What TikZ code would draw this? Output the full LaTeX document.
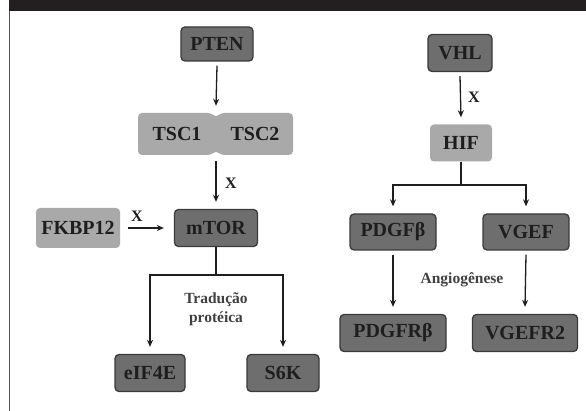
\documentclass[tikz,border=0pt]{standalone}
\usepackage{fontspec}
\setmainfont{Liberation Serif}
\usetikzlibrary{arrows.meta}
\definecolor{darkbox}{HTML}{6E6E6E}
\definecolor{darkedge}{HTML}{3A3A3A}
\definecolor{lightbox}{HTML}{A9A9A9}
\definecolor{ink}{HTML}{1E1E1E}
\definecolor{topbar}{HTML}{231F20}
\definecolor{sideline}{HTML}{555555}
\begin{document}
\begin{tikzpicture}[x=1pt,y=-1pt,
  box/.style={rounded corners=4pt, inner sep=0pt, font=\fontsize{20}{20}\selectfont\bfseries, text=ink},
  darkb/.style={box, fill=darkbox, draw=darkedge, line width=1.3pt},
  lightb/.style={box, fill=lightbox},
  plain/.style={draw=ink, line width=1.3pt},
  conn/.style={plain, -{Stealth[length=7pt,width=6pt]}},
  lab/.style={font=\fontsize{16}{16}\selectfont\bfseries, text=ink},
  toplab/.style={font=\fontsize{15.5}{19}\selectfont\bfseries, text=ink!85, align=center}]
\useasboundingbox (0,0) rectangle (586,411);
\fill[white] (0,0) rectangle (586,411);
\fill[topbar] (9,0) rectangle (586,11);
\draw[sideline, line width=1.5pt] (9.5,11) -- (9.5,411);

% left pathway
\node[darkb, minimum width=72pt, minimum height=34pt] (pten) at (217,44) {PTEN};
\fill[lightbox, rounded corners=4pt] (138,113) -- (212,113) -- (216,118) -- (220,113) -- (293,113)
  -- (293,155) -- (220,155) -- (216,150) -- (212,155) -- (138,155) -- cycle;
\node[minimum width=155pt, minimum height=42pt, inner sep=0pt] (tsc) at (216,134) {};
\node[box] (tsc1) at (177,134) {TSC1};
\node[box] (tsc2) at (255,134) {TSC2};
\node[darkb, minimum width=83pt, minimum height=37pt] (mtor) at (216,228) {mTOR};
\node[lightb, minimum width=84pt, minimum height=40pt] (fkbp) at (78,228) {FKBP12};
\node[darkb, minimum width=70pt, minimum height=37pt] (eif) at (150,373) {eIF4E};
\node[darkb, minimum width=72pt, minimum height=37pt] (s6k) at (283,373) {S6K};
\node[lab] (x1) at (231,183) {X};
\node[lab] (x2) at (137,216) {X};
\node[toplab] (trad) at (216,309) {Tradução\\protéica};
\coordinate (mb) at (216,275);

\draw[conn] ([yshift=-4pt]pten.south) -- ([yshift=7pt]tsc.north);
\draw[conn] ([yshift=-6pt]tsc.south) -- ([yshift=7pt]mtor.north);
\draw[conn] ([xshift=8pt]fkbp.east) -- ([xshift=-10pt]mtor.west);
\draw[plain] (mtor.south) -- (mb);
\draw[conn] (mb) -| ([yshift=7pt]eif.north);
\draw[conn] (mb) -| ([yshift=7pt]s6k.north);

% right pathway
\node[darkb, minimum width=64pt, minimum height=37pt] (vhl) at (460,53) {VHL};
\node[lightb, minimum width=62pt, minimum height=37pt] (hif) at (461,143) {HIF};
\node[darkb, minimum width=86pt, minimum height=36pt] (pdgf) at (393,232) {PDGFβ};
\node[darkb, minimum width=86pt, minimum height=36pt] (vgef) at (526,232) {VGEF};
\node[darkb, minimum width=106pt, minimum height=37pt] (pdgfr) at (393,333) {PDGFRβ};
\node[darkb, minimum width=105pt, minimum height=37pt] (vgefr) at (525,333) {VGEFR2};
\node[lab] (x3) at (474,97) {X};
\node[toplab] (angio) at (462,280) {Angiogênese};
\coordinate (hb) at (461,185);

\draw[conn] ([yshift=-4pt]vhl.south) -- ([yshift=7pt]hif.north);
\draw[plain] (hif.south) -- (hb);
\draw[conn] (hb) -| ([yshift=7pt]pdgf.north);
\draw[conn] (hb) -| ([yshift=7pt]vgef.north);
\draw[conn] ([yshift=-4pt]pdgf.south) -- ([yshift=7pt]pdgfr.north);
\draw[conn] ([yshift=-4pt]vgef.south) -- ([yshift=7pt]vgefr.north);
\end{tikzpicture}
\end{document}
